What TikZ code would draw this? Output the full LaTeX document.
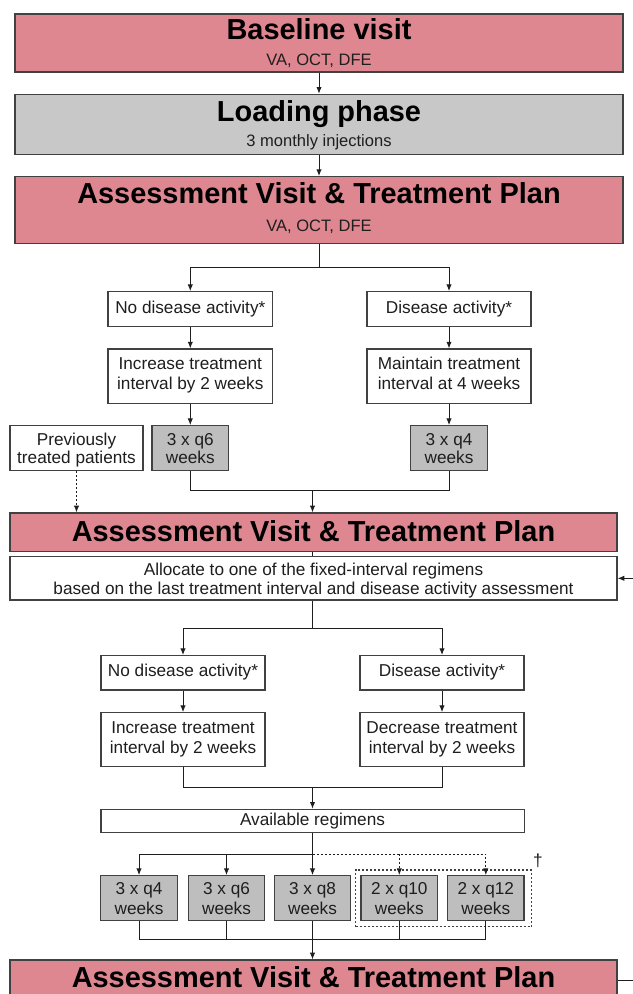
\documentclass[tikz,border=0pt]{standalone}
\usepackage{fontspec}
\setmainfont{Liberation Sans}
\usetikzlibrary{arrows.meta}
\definecolor{pinkbox}{RGB}{223,135,144}
\definecolor{greybig}{RGB}{200,200,200}
\definecolor{greysmall}{RGB}{190,190,190}
\definecolor{edge}{RGB}{65,65,65}
\definecolor{lin}{RGB}{30,30,30}
\begin{document}
\begin{tikzpicture}[x=0.75pt,y=-0.75pt,
  box/.style={draw=edge,line width=0.9pt,inner sep=0pt},
  sz/.style 2 args={minimum width=#1*0.75pt,minimum height=#2*0.75pt},
  pinkb/.style={box,fill=pinkbox},
  greyb/.style={box,fill=greybig},
  whiteb/.style={box,fill=white},
  smallg/.style={box,fill=greysmall},
  ttl/.style={anchor=base,inner sep=0pt,font=\fontsize{21.7}{24}\selectfont\bfseries},
  sub/.style={anchor=base,inner sep=0pt,text=lin,font=\fontsize{12.4}{15}\selectfont},
  txt/.style={anchor=base,inner sep=0pt,text=lin,font=\fontsize{12.9}{15}\selectfont},
  conn/.style={line width=0.7pt,lin},
  arr/.style={conn,-{Latex[length=5pt,width=4pt]}},
  dotarr/.style={arr,dash pattern=on 1.5pt off 1.5pt},
  dotln/.style={conn,dash pattern=on 1.5pt off 1.5pt}]
\useasboundingbox (0,0) rectangle (632,994);

% ---- top boxes
\node[pinkb,sz={608}{58}] (base) at (319,43) {};
\node[ttl] (baseT) at (319,39.5) {Baseline visit};
\node[sub] (baseS) at (319,65.5) {VA, OCT, DFE};

\node[greyb,sz={608}{60}] (load) at (319,124.3) {};
\node[ttl] (loadT) at (319,121.5) {Loading phase};
\node[sub] (loadS) at (319,146.5) {3 monthly injections};

\node[pinkb,sz={608}{66.7}] (ass1) at (319,210) {};
\node[ttl] (ass1T) at (319,204) {Assessment Visit \& Treatment Plan};
\node[sub] (ass1S) at (319,231.5) {VA, OCT, DFE};

% ---- first branch
\node[whiteb,sz={164.6}{35}] (nda1) at (190.3,309.2) {};
\node[txt] (nda1T) at (190.3,313.3) {No disease activity*};
\node[whiteb,sz={164}{35}] (da1) at (449,309.2) {};
\node[txt] (da1T) at (449,313.3) {Disease activity*};

\node[whiteb,sz={164.6}{54.3}] (inc1) at (190.3,376.2) {};
\node[txt] (inc1T) at (190.3,369.3) {Increase treatment};
\node[txt] (inc1U) at (190.3,389.3) {interval by 2 weeks};
\node[whiteb,sz={164}{54.3}] (main1) at (449,376.2) {};
\node[txt] (main1T) at (449,369.3) {Maintain treatment};
\node[txt] (main1U) at (449,389.3) {interval at 4 weeks};

\node[smallg,sz={76.6}{45}] (q6a) at (190.3,448.2) {};
\node[txt] (q6aT) at (190.3,445) {3 x q6};
\node[txt] (q6aU) at (190.3,463.3) {weeks};
\node[smallg,sz={77.5}{45}] (q4a) at (449,448.2) {};
\node[txt] (q4aT) at (449,445) {3 x q4};
\node[txt] (q4aU) at (449,463.3) {weeks};

\node[whiteb,sz={133}{45}] (prev) at (76.5,448.2) {};
\node[txt] (prevT) at (76.5,445) {Previously};
\node[txt] (prevU) at (76.5,463.3) {treated patients};

% ---- second assessment
\node[pinkb,sz={607}{38.7}] (ass2) at (313.5,532.3) {};
\node[ttl] (ass2T) at (313.5,541.5) {Assessment Visit \& Treatment Plan};
\node[whiteb,sz={607}{43.3}] (alloc) at (313.5,578.3) {};
\node[txt] (allocT) at (313.5,575) {Allocate to one of the fixed-interval regimens};
\node[txt] (allocU) at (313.5,594.3) {based on the last treatment interval and disease activity assessment};

% ---- second branch
\node[whiteb,sz={164}{34.3}] (nda2) at (183,672.8) {};
\node[txt] (nda2T) at (183,676.7) {No disease activity*};
\node[whiteb,sz={164}{34.3}] (da2) at (442,672.8) {};
\node[txt] (da2T) at (442,676.7) {Disease activity*};

\node[whiteb,sz={164}{54}] (inc2) at (183,739.7) {};
\node[txt] (inc2T) at (183,733.3) {Increase treatment};
\node[txt] (inc2U) at (183,753.3) {interval by 2 weeks};
\node[whiteb,sz={164}{54}] (dec2) at (442,739.7) {};
\node[txt] (dec2T) at (442,733.3) {Decrease treatment};
\node[txt] (dec2U) at (442,753.3) {interval by 2 weeks};

\node[whiteb,sz={423.2}{23.4}] (avail) at (312.5,821) {};
\node[txt] (availT) at (312.5,825.5) {Available regimens};

% ---- regimens
\node[draw=edge,line width=0.9pt,dash pattern=on 1.5pt off 1.5pt,sz={176}{56.7},inner sep=0pt] (grp) at (443.5,898.3) {};
\node[smallg,sz={76.5}{45}] (q4b) at (139,898.2) {};
\node[txt] (q4bT) at (139,894) {3 x q4};
\node[txt] (q4bU) at (139,914) {weeks};
\node[smallg,sz={76.5}{45}] (q6b) at (226.5,898.2) {};
\node[txt] (q6bT) at (226.5,894) {3 x q6};
\node[txt] (q6bU) at (226.5,914) {weeks};
\node[smallg,sz={76.5}{45}] (q8b) at (312.5,898.2) {};
\node[txt] (q8bT) at (312.5,894) {3 x q8};
\node[txt] (q8bU) at (312.5,914) {weeks};
\node[smallg,sz={76.5}{45}] (q10b) at (399.3,898.2) {};
\node[txt] (q10bT) at (399.3,894) {2 x q10};
\node[txt] (q10bU) at (399.3,914) {weeks};
\node[smallg,sz={76.5}{45}] (q12b) at (485.8,898.2) {};
\node[txt] (q12bT) at (485.8,894) {2 x q12};
\node[txt] (q12bU) at (485.8,914) {weeks};
\node[inner sep=0pt,text=lin,font=\fontsize{13}{15}\selectfont] (dag) at (538,861) {†};

\node[pinkb,sz={607}{40}] (ass3) at (313.5,980) {};
\node[ttl] (ass3T) at (313.5,987) {Assessment Visit \& Treatment Plan};

% ---- coordinates
\coordinate (b1) at (319,267);
\coordinate (j1) at (312.5,490.7);
\coordinate (b2) at (312.5,628.3);
\coordinate (j2) at (312.5,787.3);
\coordinate (d1) at (312.5,854);
\coordinate (j3) at (312.5,939.3);
\coordinate (e1) at (633,980);
\coordinate (e2) at (633,578.3);

% ---- connectors
\draw[arr] (base) -- (load);
\draw[arr] (load) -- (ass1);
\draw[conn] (ass1.south) -- (b1);
\draw[arr] (b1) -| (nda1.north);
\draw[arr] (b1) -| (da1.north);
\draw[arr] (nda1) -- (inc1);
\draw[arr] (da1) -- (main1);
\draw[arr] (inc1) -- (q6a);
\draw[arr] (main1) -- (q4a);
\draw[conn] (q6a.south) |- (j1) -| (q4a.south);
\draw[arr] (j1) -- (j1 |- ass2.north);
\draw[dotarr] (prev.south) -- (prev.south |- ass2.north);
\draw[conn] (ass2.south -| j1) -- (alloc.north -| j1);
\draw[conn] (alloc.south -| b2) -- (b2);
\draw[arr] (b2) -| (nda2.north);
\draw[arr] (b2) -| (da2.north);
\draw[arr] (nda2) -- (inc2);
\draw[arr] (da2) -- (dec2);
\draw[conn] (inc2.south) |- (j2) -| (dec2.south);
\draw[arr] (j2) -- (avail.north);
\draw[arr] (avail.south) -- (q8b.north);
\draw[arr] (d1) -| (q4b.north);
\draw[arr] (q6b.north |- d1) -- (q6b.north);
\draw[dotarr] (d1) -| (q12b.north);
\draw[dotarr] (q10b.north |- d1) -- (q10b.north);
\draw[conn] (q4b.south) |- (j3) -| (q12b.south);
\draw[conn] (q6b.south) -- (q6b.south |- j3);
\draw[conn] (q10b.south) -- (q10b.south |- j3);
\draw[arr] (q8b.south) -- (q8b.south |- ass3.north);
\draw[conn] (ass3.east) -- (e1);
\draw[arr] (e2) -- (alloc.east);
\end{tikzpicture}
\end{document}
